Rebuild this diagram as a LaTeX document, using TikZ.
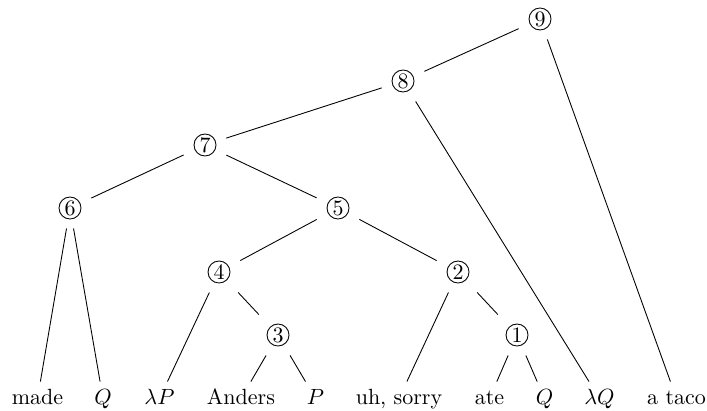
\documentclass[tikz,border=0pt]{standalone}
\begin{document}
\begin{tikzpicture}[x=0.4545pt,y=-0.4545pt,
  inner/.style={rectangle, minimum width=19pt, minimum height=18.2pt, inner sep=0pt,
    path picture={\draw[line width=0.4pt] (path picture bounding box.center) circle[radius=5pt];}},
  leaf/.style={anchor=base, text height=7pt, text depth=2pt, inner xsep=2pt, inner ysep=3pt},
  edge/.style={line width=0.4pt}]
\useasboundingbox (0,0) rectangle (707,411);
% internal nodes
\node[inner] (n9) at (540,19) {9};
\node[inner] (n8) at (403,81) {8};
\node[inner] (n7) at (205,145) {7};
\node[inner] (n6) at (70,208) {6};
\node[inner] (n5) at (338,208) {5};
\node[inner] (n4) at (219,272) {4};
\node[inner] (n2) at (458,272) {2};
\node[inner] (n3) at (278,335) {3};
\node[inner] (n1) at (517,335) {1};
% leaves
\node[leaf] (made) at (37.5,404) {made};
\node[leaf] (qa) at (103,404) {$Q$};
\node[leaf] (lp) at (159.5,404) {$\lambda P$};
\node[leaf] (anders) at (241,404) {Anders};
\node[leaf] (pa) at (315.5,404) {$P$};
\node[leaf] (uh) at (399,404) {uh, sorry};
\node[leaf] (ate) at (489.5,404) {ate};
\node[leaf] (qb) at (544.5,404) {$Q$};
\node[leaf] (lq) at (599.5,404) {$\lambda Q$};
\node[leaf] (taco) at (676.5,404) {a taco};
% edges
\draw[edge] (n9) -- (n8);
\draw[edge] (n9) -- (taco);
\draw[edge] (n8) -- (n7);
\draw[edge] (n8) -- (lq);
\draw[edge] (n7) -- (n6);
\draw[edge] (n7) -- (n5);
\draw[edge] (n6) -- (made);
\draw[edge] (n6) -- (qa);
\draw[edge] (n5) -- (n4);
\draw[edge] (n5) -- (n2);
\draw[edge] (n4) -- (lp);
\draw[edge] (n4) -- (n3);
\draw[edge] (n3) -- (anders);
\draw[edge] (n3) -- (pa);
\draw[edge] (n2) -- (uh);
\draw[edge] (n2) -- (n1);
\draw[edge] (n1) -- (ate);
\draw[edge] (n1) -- (qb);
\end{tikzpicture}
\end{document}
